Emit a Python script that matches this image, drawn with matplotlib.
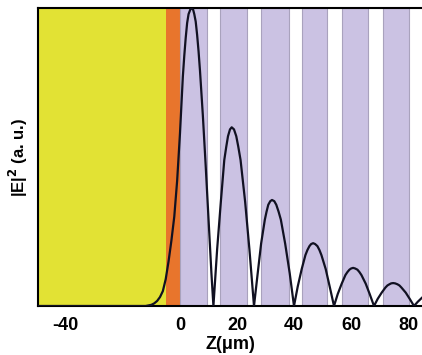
import matplotlib
matplotlib.use("Agg")
import matplotlib.pyplot as plt

# layer structure (um)
substrate_span = [-50, -5]
buffer_span = [-5, 0]
layer_starts = [0, 14.1, 28.4, 42.7, 56.8, 71.0]
layer_ends = [9.5, 23.5, 38.2, 51.6, 65.9, 80.0]

# |E|^2 profile, one row per lobe
z_um = [-50, -14, -12, -11, -10, -9, -8, -7, -6, -5, -4, -3, -2, -1, 0, 1, 1.5, 2, 2.5, 3, 3.6, 4.1,
        4.6, 5, 5.5, 6, 6.5, 7, 8, 9, 10, 11, 11.7,
        13.0, 14.3, 15.5, 16.2, 16.8, 17.5, 18.1, 18.9, 19.7, 20.4, 21.2, 22.8, 24.3, 25.9,
        27.2, 28.4, 29.7, 30.3, 30.9, 31.6, 32.2, 33.0, 33.7, 34.5, 35.3, 36.8, 38.4, 39.9,
        41.2, 42.6, 43.9, 44.6, 45.3, 45.9, 46.6, 47.3, 48.1, 48.8, 49.5, 51.0, 52.4, 53.9,
        55.2, 56.6, 57.9, 58.6, 59.3, 59.9, 60.6, 61.3, 62.1, 62.8, 63.5, 65.0, 66.4, 67.9,
        69.2, 70.6, 71.9, 72.6, 73.3, 73.9, 74.6, 75.3, 76.1, 76.8, 77.5, 79.0, 80.4, 81.9,
        83.2, 84.6, 86.0]
field = [0, 0, 0.0, 0.002, 0.004, 0.009, 0.017, 0.03, 0.05, 0.09, 0.15, 0.22, 0.30, 0.42, 0.58, 0.77, 0.84, 0.90, 0.95, 0.98, 0.995, 1.0,
         0.995, 0.98, 0.955, 0.91, 0.855, 0.79, 0.64, 0.47, 0.29, 0.11, 0.0,
         0.19, 0.35, 0.49, 0.535, 0.57, 0.593, 0.60, 0.593, 0.57, 0.535, 0.49, 0.35, 0.19, 0.0,
         0.11, 0.21, 0.29, 0.317, 0.34, 0.352, 0.356, 0.352, 0.34, 0.317, 0.29, 0.21, 0.11, 0.0,
         0.065, 0.124, 0.171, 0.188, 0.201, 0.208, 0.211, 0.208, 0.201, 0.188, 0.171, 0.124, 0.065, 0.0,
         0.040, 0.075, 0.104, 0.114, 0.122, 0.126, 0.128, 0.126, 0.122, 0.114, 0.104, 0.075, 0.040, 0.0,
         0.024, 0.045, 0.062, 0.069, 0.073, 0.076, 0.077, 0.076, 0.073, 0.069, 0.062, 0.045, 0.024, 0.0,
         0.014, 0.027, 0.039]

x_ticks = [-40, 0, 20, 40, 60, 80]


def draw_layers(ax):
    ax.axvspan(substrate_span[0], substrate_span[1], color='#e2e234', lw=0)
    ax.axvspan(buffer_span[0], buffer_span[1], color='#e8752c', lw=0)
    for a, b in zip(layer_starts, layer_ends):
        ax.axvspan(a, b, facecolor='#cbc2e3', edgecolor='#a9a2bd', lw=0.8)


def main():
    plt.rcParams['font.family'] = ['Liberation Sans', 'DejaVu Sans']
    plt.rcParams['font.weight'] = 'bold'

    fig = plt.figure(figsize=(4.22, 3.55), dpi=100)
    ax = fig.add_axes([0.090, 0.138, 0.910, 0.839])

    draw_layers(ax)
    ax.plot(z_um, field, color='#111122', lw=1.6, zorder=3, solid_joinstyle='round')

    ax.set_xlim(-49.7, 84.7)
    ax.set_ylim(0, 1.0)
    ax.set_xticks(x_ticks)
    ax.set_xticklabels([str(t) for t in x_ticks], fontsize=13, fontweight='bold')
    ax.set_yticks([])
    ax.tick_params(axis='x', length=0, pad=8)

    for side in ['left', 'bottom', 'top']:
        ax.spines[side].set_linewidth(1.5)
    ax.spines['right'].set_visible(False)

    ax.set_xlabel('Z(\u03bcm)', fontsize=13, fontweight='bold', labelpad=1)
    ax.set_ylabel('|E|$^\\mathbf{2}$ (a. u.)', fontsize=12, fontweight='bold', labelpad=6)

    fig.savefig("out.png", dpi=100)


if __name__ == "__main__":
    main()
